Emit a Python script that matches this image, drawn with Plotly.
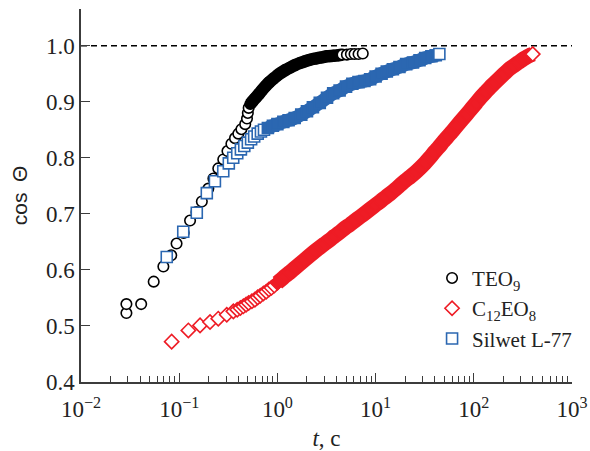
import plotly.graph_objects as go

# --- data: contact-angle cosine vs time -------------------------------------
teo9_t = [0.029, 0.029, 0.041, 0.055, 0.069, 0.083, 0.094, 0.111, 0.129, 0.150,
          0.170, 0.198, 0.223, 0.250, 0.281, 0.310, 0.34, 0.37, 0.40, 0.43,
          0.47, 0.49, 0.50, 0.51,
          0.53, 0.56, 0.60, 0.65, 0.70, 0.76, 0.83, 0.91, 1.0, 1.1,
          1.22, 1.35, 1.5, 1.7, 1.9, 2.15, 2.45, 2.8, 3.2, 3.7, 4.2,
          4.6, 5.1, 5.6, 6.1, 6.7, 7.4]
teo9_cos = [0.523, 0.539, 0.539, 0.579, 0.606, 0.626, 0.647, 0.666, 0.688, 0.703,
            0.722, 0.745, 0.763, 0.781, 0.797, 0.812, 0.825, 0.835, 0.843, 0.851,
            0.860, 0.870, 0.880, 0.889,
            0.896, 0.901, 0.907, 0.914, 0.921, 0.928, 0.935, 0.941, 0.947, 0.952,
            0.957, 0.961, 0.965, 0.969, 0.972, 0.975, 0.977, 0.979, 0.981, 0.982, 0.983,
            0.984, 0.984, 0.985, 0.985, 0.985, 0.986]

c12eo8_t = [0.0838, 0.124, 0.163, 0.206, 0.250, 0.305, 0.356,
            0.39, 0.42, 0.45, 0.48, 0.51, 0.55, 0.59, 0.63, 0.67, 0.72, 0.77,
            0.82, 0.87, 0.93,
            1.0, 1.1, 1.2, 1.35, 1.5, 1.7, 1.9, 2.15, 2.4, 2.7, 3.0, 3.4, 3.8,
            4.3, 4.9, 5.5, 6.2, 7.0, 7.9, 8.9, 10, 11.3, 12.7, 14.3, 16, 18, 20,
            22.5, 25.5, 28.5, 32, 36, 40, 44, 49, 55, 61, 68, 76, 85, 95, 106,
            118, 132, 147, 164, 183, 204, 228, 255, 285, 318, 355,
            398]
c12eo8_cos = [0.472, 0.492, 0.501, 0.507, 0.513, 0.520, 0.526,
              0.529, 0.532, 0.535, 0.538, 0.541, 0.544, 0.547, 0.551, 0.554, 0.558, 0.561,
              0.565, 0.568, 0.572,
              0.577, 0.583, 0.589, 0.596, 0.603, 0.611, 0.618, 0.626, 0.633, 0.640, 0.646,
              0.653, 0.660, 0.667, 0.675, 0.681, 0.688, 0.695, 0.702, 0.709, 0.716, 0.723,
              0.730, 0.737, 0.744, 0.752, 0.759, 0.766, 0.774, 0.782, 0.791, 0.801, 0.811,
              0.819, 0.829, 0.839, 0.848, 0.858, 0.868, 0.878, 0.888, 0.898, 0.908, 0.917,
              0.926, 0.934, 0.942, 0.950, 0.958, 0.964, 0.970, 0.976, 0.981,
              0.985]

silwet_t = [0.0747, 0.110, 0.151, 0.191, 0.231, 0.281, 0.320, 0.355, 0.390, 0.425,
            0.46, 0.50, 0.54, 0.58, 0.63, 0.68, 0.73,
            0.80, 0.9, 1.0, 1.15, 1.3, 1.5, 1.75, 2.0, 2.3, 2.7, 3.2, 3.7, 4.3,
            5.0, 5.8, 6.7, 7.7, 8.8, 10, 11.5, 13, 15, 17.5, 20.5, 24, 28, 32,
            37, 41,
            44.6]
silwet_cos = [0.623, 0.668, 0.702, 0.737, 0.758, 0.776, 0.790, 0.800, 0.808, 0.815,
              0.821, 0.827, 0.833, 0.838, 0.843, 0.847, 0.850,
              0.853, 0.857, 0.860, 0.864, 0.867, 0.871, 0.877, 0.883, 0.890, 0.898,
              0.907, 0.915, 0.920, 0.927, 0.932, 0.935, 0.937, 0.940, 0.945, 0.950,
              0.954, 0.958, 0.962, 0.967, 0.970, 0.974, 0.978, 0.981, 0.983,
              0.985]

x_tickvals = [0.01, 0.1, 1, 10, 100, 1000]
x_ticktext = ["10<sup>−2</sup>", "10<sup>−1</sup>", "10<sup>0</sup>",
              "10<sup>1</sup>", "10<sup>2</sup>", "10<sup>3</sup>"]
y_tickvals = [0.4, 0.5, 0.6, 0.7, 0.8, 0.9, 1.0]

# --- style -------------------------------------------------------------------
BLACK = "#000000"
RED = "#ee1c25"
BLUE = "#2b67b1"
WHITE = "#ffffff"
AXIS = "#3c3c3c"
TEXT = "#222222"
SERIF = "Liberation Serif, Times New Roman, serif"

# (name, t, cos, color, symbol, size, band width, open markers at start, at end)
series = [
    ("TEO<sub>9</sub>", teo9_t, teo9_cos, BLACK, "circle", 10.5, 12.5, 24, 6),
    ("C<sub>12</sub>EO<sub>8</sub>", c12eo8_t, c12eo8_cos, RED, "diamond", 11, 15, 21, 1),
    ("Silwet L-77", silwet_t, silwet_cos, BLUE, "square", 11, 13.5, 17, 1),
]

fig = go.Figure()

# reference level cos = 1
fig.add_trace(go.Scatter(x=[x_tickvals[0], x_tickvals[-1]], y=[1.0, 1.0],
                         mode="lines", line=dict(color=BLACK, width=1.5, dash="6px,4px"),
                         showlegend=False, hoverinfo="skip"))

for name, t, c, color, symbol, size, band, n_head, n_tail in series:
    n = len(t)
    # densely packed run of markers merges into a solid band
    fig.add_trace(go.Scatter(
        x=t[n_head:n - n_tail + 1], y=c[n_head:n - n_tail + 1], mode="lines",
        line=dict(color=color, width=band, shape="spline", smoothing=0.6),
        showlegend=False, hoverinfo="skip"))
    fills = [WHITE if (i < n_head or i >= n - n_tail) else color for i in range(n)]
    fig.add_trace(go.Scatter(
        x=t, y=c, mode="markers", showlegend=False, name=name,
        marker=dict(symbol=symbol, size=size, color=fills,
                    line=dict(color=color, width=1.6)),
    ))

# legend entries (open symbols)
for name, t, c, color, symbol, size, band, n_head, n_tail in series:
    fig.add_trace(go.Scatter(
        x=[None], y=[None], mode="markers", name=name,
        marker=dict(symbol=symbol, size=size, color=WHITE,
                    line=dict(color=color, width=1.6)),
    ))

minor_vals = [k * 10.0 ** e for e in range(-2, 3) for k in range(2, 10)]

fig.update_layout(
    width=590, height=451,
    margin=dict(l=81, r=18, t=9, b=69),
    paper_bgcolor="white", plot_bgcolor="white",
    font=dict(family=SERIF, size=22, color=TEXT),
    showlegend=True,
    legend=dict(x=0.715, y=0.333, xanchor="left", yanchor="top",
                font=dict(family=SERIF, size=21, color=TEXT),
                bgcolor="rgba(0,0,0,0)", itemwidth=30, tracegroupgap=0),
    xaxis=dict(
        type="log", range=[-2, 3], automargin=False,
        tickvals=x_tickvals, ticktext=x_ticktext,
        tickfont=dict(family=SERIF, size=23, color=TEXT),
        ticks="inside", ticklen=9, tickwidth=1.3, tickcolor=AXIS,
        ticklabelstandoff=6,
        minor=dict(tickvals=minor_vals, ticks="inside", ticklen=6,
                   tickwidth=1.1, tickcolor=AXIS, showgrid=False),
        showline=True, linecolor=AXIS, linewidth=1.5,
        showgrid=False, zeroline=False,
        title=dict(text="<i>t</i>, c", font=dict(family=SERIF, size=23), standoff=12),
    ),
    yaxis=dict(
        range=[0.4, 1.0654], automargin=False,
        tickvals=y_tickvals, tickformat=".1f",
        tickfont=dict(family=SERIF, size=23, color=TEXT),
        ticks="inside", ticklen=9, tickwidth=1.3, tickcolor=AXIS,
        showline=True, linecolor=AXIS, linewidth=1.5,
        showgrid=False, zeroline=False,
        title=dict(text="cos\u2002Θ",
                   font=dict(family="Liberation Sans, Arial, sans-serif", size=21),
                   standoff=13),
    ),
)

fig.write_html("out.html")
